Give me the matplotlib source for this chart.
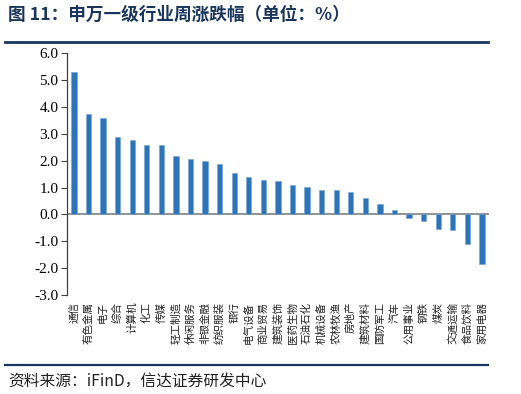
import matplotlib
matplotlib.use('Agg')
import matplotlib.pyplot as plt
from matplotlib.lines import Line2D

plt.rcParams['font.family'] = ['Noto Sans CJK SC', 'DejaVu Sans']

# ── Data ──────────────────────────────────────────────────────────────────────
industries = ['通信', '有色金属', '电子', '综合', '计算机', '化工', '传媒',
              '轻工制造', '休闲服务', '非银金融', '纺织服装', '银行', '电气设备',
              '商业贸易', '建筑装饰', '医药生物', '石油石化', '机械设备', '农林牧渔',
              '房地产', '建筑材料', '国防军工', '汽车', '公用事业', '钢铁', '煤炭',
              '交通运输', '食品饮料', '家用电器']
weekly_chg = [5.29, 3.74, 3.60, 2.88, 2.79, 2.59, 2.58,
              2.18, 2.08, 1.99, 1.89, 1.55, 1.38,
              1.28, 1.24, 1.11, 1.01, 0.91, 0.90,
              0.84, 0.61, 0.38, 0.15, -0.15, -0.25, -0.54,
              -0.58, -1.10, -1.83]
y_ticks = [-3.0, -2.0, -1.0, 0.0, 1.0, 2.0, 3.0, 4.0, 5.0, 6.0]

BAR = '#2E74B8'
NAVY = '#1B365D'

fig = plt.figure(figsize=(5.21, 3.94), dpi=100)
ax = fig.add_axes([0.128, 0.2513, 0.811, 0.6134])

x = range(len(industries))
ax.bar(x, weekly_chg, width=0.36, color=BAR, edgecolor='#6FA3D8', linewidth=0.4, zorder=3)
ax.axhline(0, color='#808080', linewidth=1.2, zorder=2)

ax.set_xlim(-0.5, len(industries) - 0.5)
ax.set_ylim(-3.0, 6.0)
ax.set_yticks(y_ticks)
ax.set_yticklabels([f'{v:.1f}' for v in y_ticks],
                   family=['Liberation Serif', 'DejaVu Serif'], fontsize=11)
ax.tick_params(axis='y', direction='out', length=4, width=0.8, color='#404040', pad=2)

ax.set_xticks(list(x))
ax.set_xticklabels(industries, rotation=90, fontsize=7.6, va='top', ha='center',
                   color='#222222')
ax.tick_params(axis='x', length=0, pad=5)

for s in ['top', 'right', 'bottom']:
    ax.spines[s].set_visible(False)
ax.spines['left'].set_color('#404040')
ax.spines['left'].set_linewidth(0.9)

# ── Header / footer ──────────────────────────────────────────────────────────
fig.text(0.016, 0.962, '图 11：申万一级行业周涨跌幅（单位：%）', fontsize=12.7,
         fontweight='bold', color=NAVY, va='center', ha='left')
fig.add_artist(Line2D([0.01, 0.937], [0.893, 0.893], color=NAVY, linewidth=2.0))
fig.add_artist(Line2D([0.01, 0.937], [0.073, 0.073], color=NAVY, linewidth=1.6))
fig.text(0.016, 0.033, '资料来源：iFinD，信达证券研发中心', fontsize=11.3,
         style='italic', color='#222222', va='center', ha='left')

fig.savefig('out.png', dpi=100)
